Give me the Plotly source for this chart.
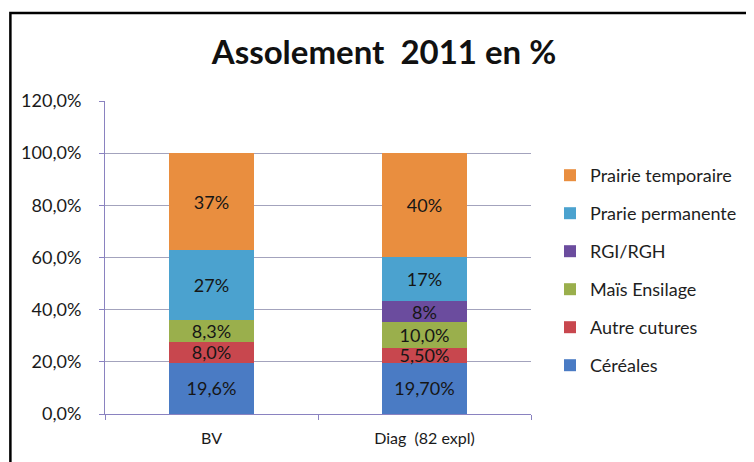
import plotly.graph_objects as go

categories = ["BV", "Diag  (82 expl)"]

series_names = ["Céréales", "Autre cutures", "Maïs Ensilage", "RGI/RGH",
                "Prarie permanente", "Prairie temporaire"]
cereales = [0.196, 0.197]
autres = [0.080, 0.055]
mais = [0.083, 0.100]
rgi = [0.0, 0.080]
prairie_perm = [0.27, 0.17]
prairie_temp = [0.37, 0.40]

labels_cereales = ["19,6%", "19,70%"]
labels_autres = ["8,0%", "5,50%"]
labels_mais = ["8,3%", "10,0%"]
labels_rgi = ["", "8%"]
labels_perm = ["27%", "17%"]
labels_temp = ["37%", "40%"]

values = [cereales, autres, mais, rgi, prairie_perm, prairie_temp]
labels = [labels_cereales, labels_autres, labels_mais, labels_rgi, labels_perm, labels_temp]
colors = ["#4A7BC4", "#C8474E", "#9AAF4C", "#6B4C9E", "#4BA2CF", "#E98E3F"]

FONT = "Lato"
# page body has an 8px margin: figure drawn at (8, 8)
W, H = 746, 454
L, R, T, B = 97, 219, 93, 48
PW, PH = W - L - R, H - T - B

fig = go.Figure()
for i, (name, vals, txt, col) in enumerate(zip(series_names, values, labels, colors)):
    fig.add_trace(go.Bar(
        x=categories, y=vals, name=name, legendgroup=name,
        legendrank=1000 - 10 * i,
        marker=dict(color=col, line=dict(width=0)),
        text=txt, textposition="inside", insidetextanchor="middle",
        textangle=0, constraintext="none",
        textfont=dict(family=FONT, size=18, color="#161616"),
        hoverinfo="skip",
    ))

fig.update_layout(
    barmode="stack",
    bargap=0.6,
    separators=",.",
    width=W, height=H,
    margin=dict(l=L, r=R, t=T, b=B, pad=0),
    paper_bgcolor="white", plot_bgcolor="white",
    font=dict(family=FONT, size=15, color="#1e1e1e"),
    title=dict(text="<b>Assolement  2011 en %</b>", x=376 / W, xref="container",
               y=1 - 44 / H, yref="container", yanchor="middle", xanchor="center",
               font=dict(family=FONT, size=33, color="#111111")),
    legend=dict(traceorder="grouped", x=(740 - L) / PW, xanchor="right",
                y=1 - (149 - T) / PH, yanchor="top",
                tracegroupgap=11.6, itemwidth=30,
                font=dict(family=FONT, size=18, color="#1e1e1e"),
                bgcolor="rgba(0,0,0,0)"),
    showlegend=True,
)
fig.update_yaxes(range=[0, 1.2], dtick=0.2, tickformat=".1%",
                 showgrid=True, gridcolor="#a3a3bd", gridwidth=1,
                 showline=True, linecolor="#8a82c0", linewidth=1,
                 ticks="outside", ticklen=5, tickcolor="#8a82c0",
                 ticklabelstandoff=14,
                 tickfont=dict(family=FONT, size=18, color="#1a1a1a"),
                 zeroline=False)
fig.update_xaxes(showline=True, linecolor="#8a82c0", linewidth=1,
                 ticks="outside", tickson="boundaries", ticklen=5, tickcolor="#8a82c0",
                 ticklabelstandoff=10,
                 tickfont=dict(family=FONT, size=16, color="#1a1a1a"))

fig.add_shape(type="rect", xref="paper", yref="paper",
              x0=(1.5 - L) / PW, x1=2.0, y0=-1.0, y1=1 + (T - 5) / PH,
              line=dict(color="black", width=2.5), fillcolor="rgba(0,0,0,0)", layer="above")

fig.write_html("out.html")
